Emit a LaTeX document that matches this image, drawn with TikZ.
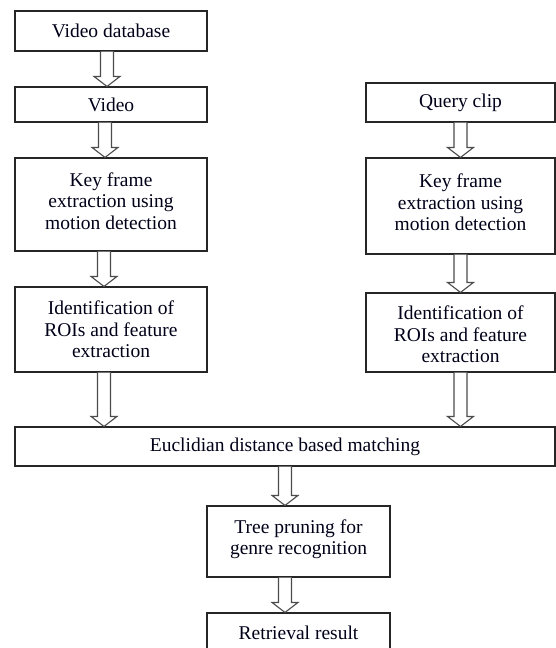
\documentclass[tikz,border=0pt]{standalone}
\usepackage{fontspec}
\setmainfont{Liberation Serif}
\usetikzlibrary{calc}
\tikzset{
  box/.style={draw=black!85, line width=1.1pt, fill=white, inner sep=0pt, align=center,
    font=\fontsize{19.5}{21.5}\selectfont, text=black!90!blue},
  arrowline/.style={draw=black!70, line width=1.1pt, fill=white, line join=miter},
}
\newcommand{\bigarrow}[3]{%
  \draw[arrowline] let \p1=(#1.south), \p2=(#2.north) in
    (#3-6.5,\y1) -- (#3-6.5,\y2+10pt) -- (#3-13,\y2+10pt) -- (#3,\y2)
    -- (#3+13,\y2+10pt) -- (#3+6.5,\y2+10pt) -- (#3+6.5,\y1);}
\newcommand{\dn}[1]{\rule[-#1]{0pt}{#1}}
\begin{document}
\begin{tikzpicture}[x=1pt,y=-1pt]
\useasboundingbox (0,0) rectangle (556,648);
\clip (0,0) rectangle (556,648);
\fill[white] (0,0) rectangle (556,648);
% left column
\node[box, minimum width=192pt, minimum height=40pt] (vdb) at (111,31) {Video database};
\node[box, minimum width=192pt, minimum height=35pt] (vid) at (111,104.5) {Video};
\node[box, minimum width=192pt, minimum height=93pt] (kf1) at (111,204.5) {Key frame\\extraction using\\motion detection\dn{7pt}};
\node[box, minimum width=192pt, minimum height=85pt] (id1) at (111,329.5) {Identification of\\ROIs and feature\\extraction};
% right column
\node[box, minimum width=189pt, minimum height=39pt] (qc) at (460.5,102.5) {Query clip};
\node[box, minimum width=189pt, minimum height=96pt] (kf2) at (460.5,206) {Key frame\\extraction using\\motion detection\dn{7pt}};
\node[box, minimum width=189pt, minimum height=79pt] (id2) at (460.5,332.5) {\rule{0pt}{17.5pt}Identification of\\ROIs and feature\\extraction};
% bottom
\node[box, minimum width=540pt, minimum height=39pt] (eu) at (285,446.5) {Euclidian distance based matching};
\node[box, minimum width=183pt, minimum height=71pt] (tp) at (298.5,541.5) {Tree pruning for\\genre recognition\dn{8.5pt}};
\node[box, minimum width=183pt, minimum height=47pt] (rr) at (298.5,636.5) {Retrieval result\dn{8pt}};
% arrows
\bigarrow{vdb}{vid}{107}
\bigarrow{vid}{kf1}{105}
\bigarrow{kf1}{id1}{104}
\bigarrow{id1}{eu}{104}
\bigarrow{qc}{kf2}{460.5}
\bigarrow{kf2}{id2}{460.5}
\bigarrow{id2}{eu}{460.5}
\bigarrow{eu}{tp}{285}
\bigarrow{tp}{rr}{285}
\end{tikzpicture}
\end{document}
